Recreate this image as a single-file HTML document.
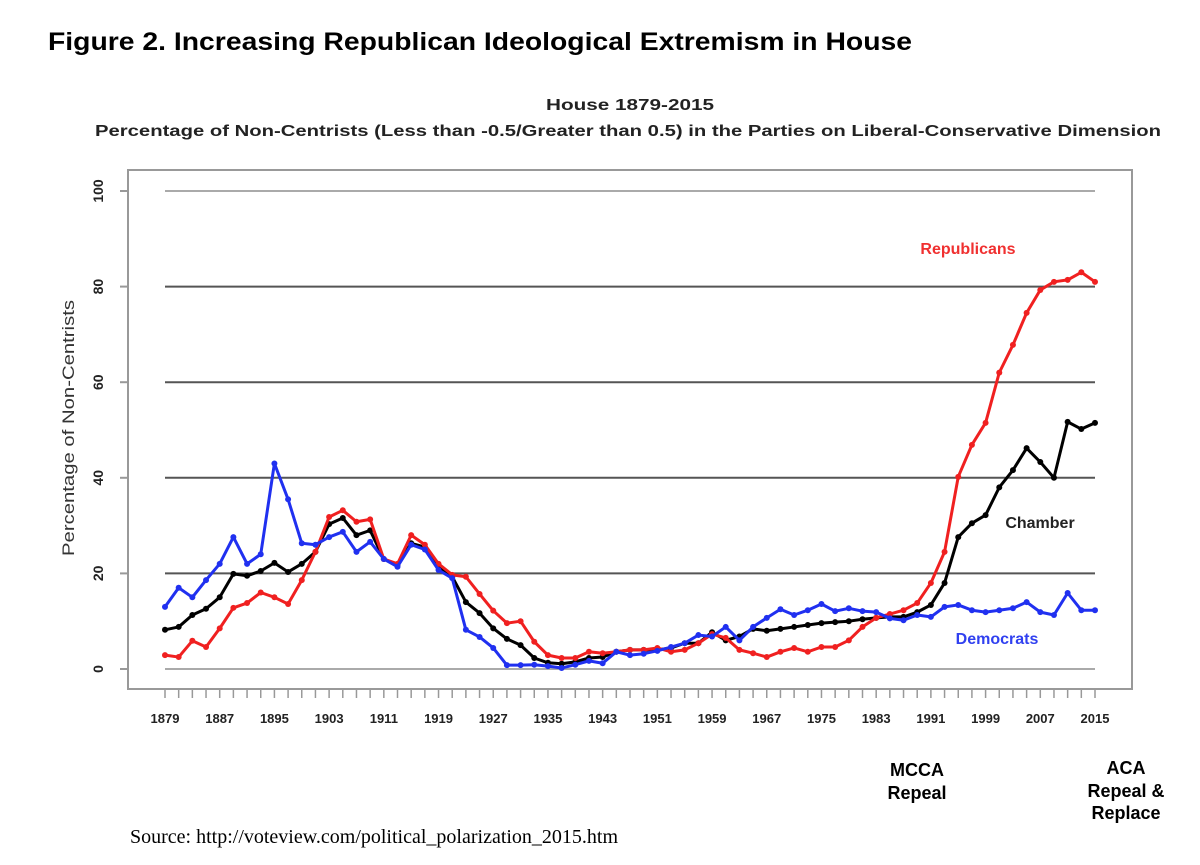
<!DOCTYPE html>
<html><head><meta charset="utf-8"><style>
body{margin:0;background:#fff;width:1200px;height:865px;overflow:hidden}
svg{display:block}
</style></head><body>
<svg id="chart" width="1200" height="865" xmlns="http://www.w3.org/2000/svg" font-family="Liberation Sans, sans-serif">
<text x="48" y="50" font-size="25" font-weight="bold" fill="#000" textLength="864" lengthAdjust="spacingAndGlyphs">Figure 2.  Increasing Republican Ideological Extremism in House</text>
<text x="630" y="110" font-size="16" font-weight="bold" text-anchor="middle" fill="#222" textLength="168" lengthAdjust="spacingAndGlyphs">House 1879-2015</text>
<text x="628" y="136" font-size="16" font-weight="bold" text-anchor="middle" fill="#222" textLength="1066" lengthAdjust="spacingAndGlyphs">Percentage of Non-Centrists (Less than -0.5/Greater than 0.5) in the Parties on Liberal-Conservative Dimension</text>
<rect x="128" y="170" width="1004" height="519" fill="none" stroke="#999" stroke-width="2"/>
<g id="grid"></g><g id="axes"></g><g id="series"></g>
<text transform="translate(74,428) rotate(-90)" font-size="17" text-anchor="middle" fill="#333" textLength="256" lengthAdjust="spacingAndGlyphs">Percentage of Non-Centrists</text>
<text x="968" y="254" font-size="16" font-weight="bold" text-anchor="middle" fill="#f03030">Republicans</text>
<text x="1040" y="528" font-size="16" font-weight="bold" text-anchor="middle" fill="#222">Chamber</text>
<text x="997" y="644" font-size="16" font-weight="bold" text-anchor="middle" fill="#3040f0">Democrats</text>
<text font-size="18" font-weight="bold" text-anchor="middle" fill="#000"><tspan x="917" y="776">MCCA</tspan><tspan x="917" y="799">Repeal</tspan></text>
<text font-size="18" font-weight="bold" text-anchor="middle" fill="#000"><tspan x="1126" y="774">ACA</tspan><tspan x="1126" y="797">Repeal &amp;</tspan><tspan x="1126" y="819">Replace</tspan></text>
<text x="130" y="843" font-family="Liberation Serif, serif" font-size="20" fill="#000">Source: http://voteview.com/political_polarization_2015.htm</text>
</svg>
<script>
const years=[];for(let y=1879;y<=2015;y+=2)years.push(y);
const yTicks=[0,20,40,60,80,100];
const xTickLabels=[1879,1887,1895,1903,1911,1919,1927,1935,1943,1951,1959,1967,1975,1983,1991,1999,2007,2015];
const democrats=[13,17,15,18.6,22,27.6,22,24,43,35.5,26.3,26,27.6,28.7,24.5,26.6,23,21.4,26,25,20.7,19,8.2,6.7,4.4,0.8,0.8,0.9,0.6,0.2,0.9,1.7,1.2,3.6,2.9,3.2,3.8,4.6,5.4,7.1,6.8,8.8,6,8.8,10.7,12.5,11.3,12.3,13.6,12.1,12.7,12.1,11.9,10.6,10.2,11.3,10.9,13,13.4,12.3,11.9,12.3,12.7,14,11.9,11.3,15.9,12.3,12.3];
const republicans=[2.9,2.5,5.9,4.6,8.5,12.8,13.8,16,15,13.6,18.6,24.5,31.8,33.2,30.8,31.3,23,22,28,26,22,19.7,19.3,15.7,12.2,9.6,10,5.7,2.9,2.3,2.3,3.6,3.3,3.6,4,4,4.4,3.6,4,5.4,7.3,6.5,4,3.3,2.5,3.6,4.4,3.6,4.6,4.6,6,8.8,10.7,11.5,12.3,13.8,18,24.5,40.2,46.9,51.5,62,67.8,74.5,79.3,81,81.4,83,81];
const chamber=[8.2,8.8,11.3,12.6,15,19.9,19.5,20.5,22.2,20.3,22,24.5,30.3,31.6,28,29,23,21.8,26.3,25.5,21.4,19.3,14,11.7,8.5,6.3,5,2.3,1.3,1.1,1.5,2.3,2.5,3.6,4,4,4,4.4,5.4,5.4,7.7,6,6.8,8.4,8,8.4,8.8,9.2,9.6,9.8,10,10.4,10.7,10.9,10.9,11.9,13.4,18,27.6,30.5,32.2,38,41.6,46.2,43.3,40,51.7,50.2,51.5];
const NS='http://www.w3.org/2000/svg';
const x=y=>165+(y-1879)/(2015-1879)*930;
const yv=v=>669-v*4.78;
function mk(t,a,p){const e=document.createElementNS(NS,t);for(const k in a)e.setAttribute(k,a[k]);p.appendChild(e);return e;}
const grid=document.getElementById('grid'),axes=document.getElementById('axes'),ser=document.getElementById('series');
yTicks.forEach(v=>{
 const g=mk('line',{x1:165,x2:1095,y1:yv(v),y2:yv(v),stroke:v===0||v===100?'#aaa':'#555','stroke-width':2},grid);
 
 
 const t=mk('line',{x1:120,x2:128,y1:yv(v),y2:yv(v),stroke:'#999','stroke-width':2},axes);
 
 
 const l=mk('text',{transform:`translate(103,${yv(v)}) rotate(-90)`,'font-size':14,'font-weight':'bold','text-anchor':'middle',fill:'#222'},axes);
 l.textContent=v;
 
 
});
years.forEach(yr=>{
 const t=mk('line',{x1:x(yr),x2:x(yr),y1:689,y2:698,stroke:'#999','stroke-width':1.5},axes);
 
 
});
xTickLabels.forEach(yr=>{
 const l=mk('text',{x:x(yr),y:723,'font-size':13,'font-weight':'bold','text-anchor':'middle',fill:'#222'},axes);
 l.textContent=yr;
 
 
});
function draw(data,color,name){
 const p=mk('polyline',{points:data.map((v,i)=>x(years[i])+','+yv(v)).join(' '),fill:'none',stroke:color,'stroke-width':3,'stroke-linejoin':'round'},ser);
 
 
 data.forEach((v,i)=>{
  const c=mk('circle',{cx:x(years[i]),cy:yv(v),r:3,fill:color},ser);
  
  
 });
}
draw(chamber,'#000','chamber');
draw(republicans,'#f02020','republicans');
draw(democrats,'#2030f0','democrats');
</script>
</body></html>
